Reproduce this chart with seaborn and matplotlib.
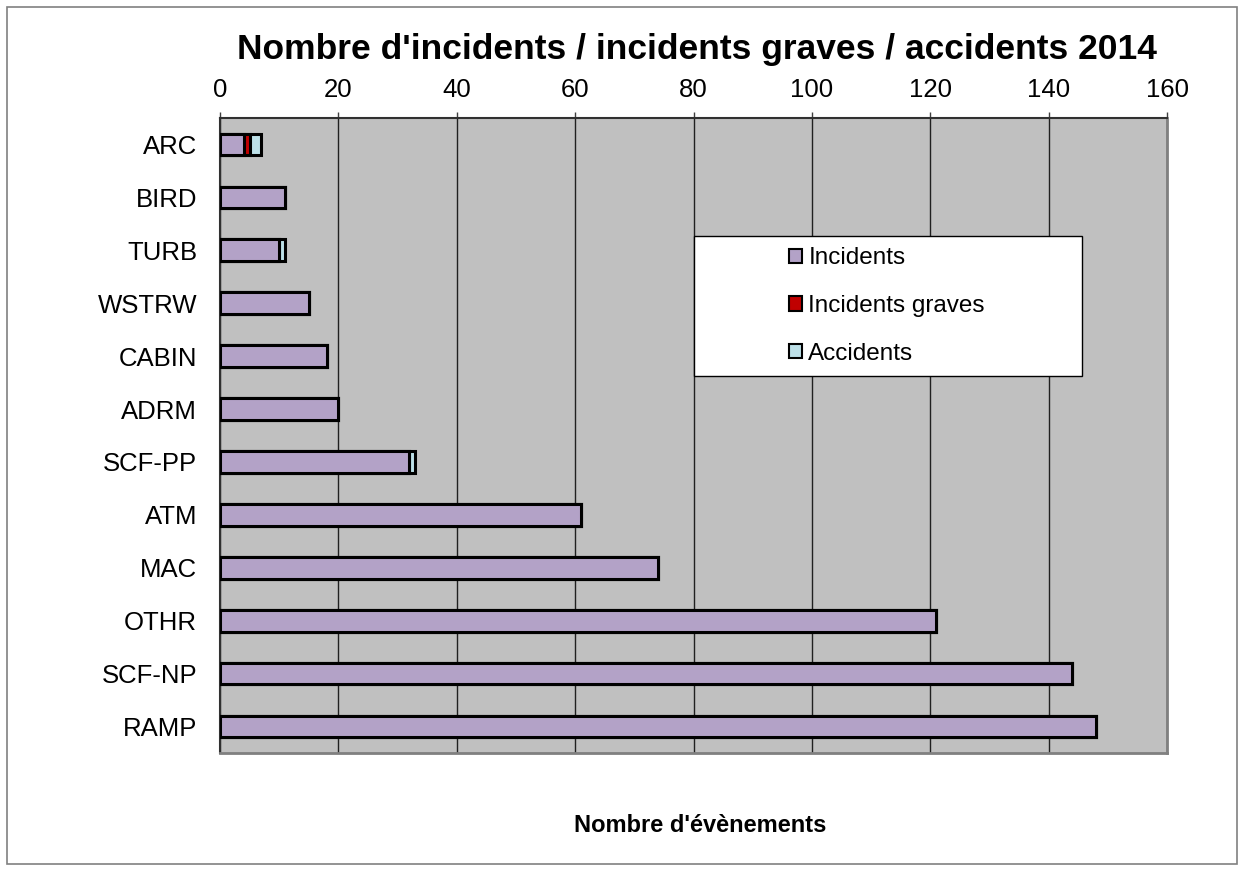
import matplotlib
matplotlib.use("Agg")
import matplotlib.pyplot as plt
import seaborn as sns
import pandas as pd
import numpy as np
from matplotlib.patches import Rectangle, Patch

categories = ["ARC", "BIRD", "TURB", "WSTRW", "CABIN", "ADRM", "SCF-PP",
              "ATM", "MAC", "OTHR", "SCF-NP", "RAMP"]
incidents = [4, 11, 10, 15, 18, 20, 32, 61, 74, 121, 144, 148]
incidents_graves = [1, 0, 0, 0, 0, 0, 0, 0, 0, 0, 0, 0]
accidents = [2, 0, 1, 0, 0, 0, 1, 0, 0, 0, 0, 0]
series_names = ["Incidents", "Incidents graves", "Accidents"]
colors = ["#B3A2C7", "#C00000", "#BDE0E8"]
xticks = [0, 20, 40, 60, 80, 100, 120, 140, 160]

sns.set_style("white")
plt.rcParams['font.family'] = ['Liberation Sans', 'DejaVu Sans']
plt.rcParams['text.color'] = 'black'
plt.rcParams['axes.labelcolor'] = 'black'
plt.rcParams['xtick.color'] = 'black'
plt.rcParams['ytick.color'] = 'black'

df = pd.DataFrame({"cat": categories,
                   "inc": incidents,
                   "grv": incidents_graves,
                   "acc": accidents})
df["c1"] = df["inc"]
df["c2"] = df["inc"] + df["grv"]
df["c3"] = df["c2"] + df["acc"]

W, H = 1244, 871
fig = plt.figure(figsize=(W / 100, H / 100), dpi=100)
ax = fig.add_axes([220/W, 1-753/H, (1167-220)/W, (753-118)/H])
ax.set_facecolor("#C0C0C0")

# stacked bars: draw cumulative totals from largest to smallest
for col, c in zip(["c3", "c2", "c1"], colors[::-1]):
    sns.barplot(data=df, x=col, y="cat", order=categories, orient="h",
                color=c, saturation=1, width=0.41, edgecolor="black",
                linewidth=2.2, ax=ax, errorbar=None, zorder=3)

ax.set_xlim(0, 160)
ax.set_ylim(11.5, -0.5)
ax.set_xticks(xticks)
ax.xaxis.tick_top()
ax.tick_params(axis="x", which="major", direction="out", length=4.5, width=1,
               color="#404040", labelcolor="black", labelsize=18.5, pad=7,
               top=True, bottom=False)
ax.set_yticks(range(len(categories)))
ax.set_yticklabels(categories)
ax.tick_params(axis="y", which="major", length=0, labelsize=18.5, pad=16.5,
               labelcolor="black")
ax.set_yticks(np.arange(-0.5, 12, 1), minor=True)
ax.tick_params(axis="y", which="minor", direction="out", length=5, width=1,
               color="#404040")
ax.grid(axis="x", color="#202020", linewidth=1, zorder=0)
ax.set_axisbelow(True)
ax.set_ylabel("")
ax.set_xlabel("")
for s in ["left", "top"]:
    ax.spines[s].set_color("#303030")
    ax.spines[s].set_linewidth(1.5)
for s in ["right", "bottom"]:
    ax.spines[s].set_color("#808080")
    ax.spines[s].set_linewidth(2)

fig.text(697/W, 1 - 49/H,
         "Nombre d'incidents / incidents graves / accidents 2014",
         ha="center", va="center", fontsize=25.5, fontweight="bold",
         color="black")
fig.text(700/W, 1 - 825/H, "Nombre d'évènements",
         ha="center", va="center", fontsize=17, fontweight="bold",
         color="black")

# legend box
fig.add_artist(Rectangle((694/W, 1 - 376/H), (1082-694)/W, (376-236)/H,
                         transform=fig.transFigure, facecolor="white",
                         edgecolor="black", linewidth=1, zorder=5))
handles = [Patch(facecolor=c, edgecolor="black", linewidth=1.5) for c in colors]
leg = fig.legend(handles, series_names, loc="center left",
                 bbox_to_anchor=(789/W, 1 - 306/H),
                 fontsize=17.5, frameon=False, labelcolor="black",
                 handlelength=0.55, handleheight=0.55,
                 handletextpad=0.25, labelspacing=1.05, borderpad=0,
                 borderaxespad=0)
leg.set_zorder(6)

fig.add_artist(Rectangle((7/W, 7/H), 1 - 14/W, 1 - 14/H,
                         transform=fig.transFigure, fill=False,
                         edgecolor="#808080", linewidth=1.2))

fig.savefig("out.png", dpi=100)
